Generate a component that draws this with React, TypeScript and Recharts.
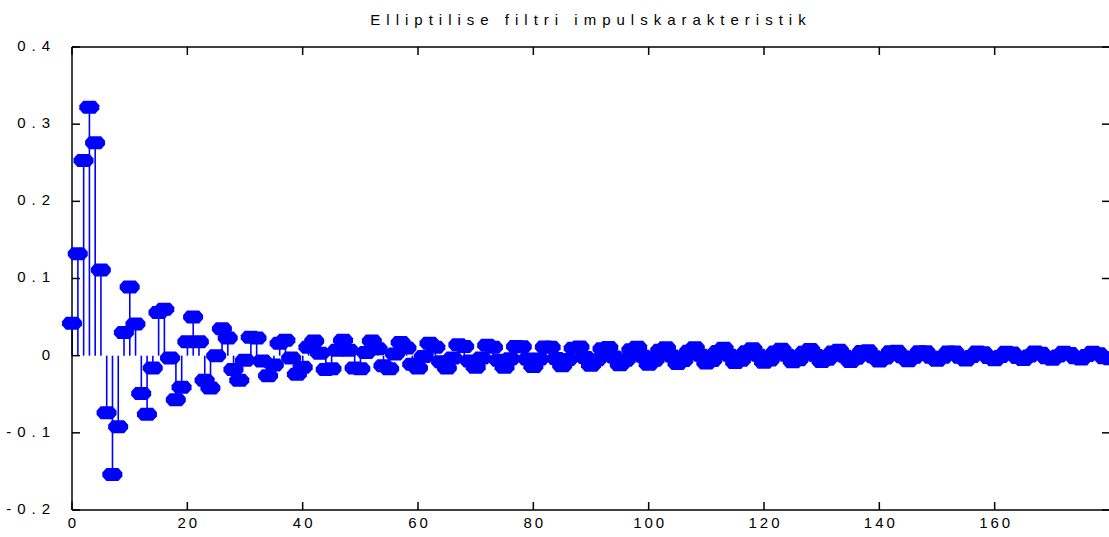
import { ComposedChart, Bar, Scatter, XAxis, YAxis, ReferenceLine } from 'recharts';

// impulse response, samples 0..29
const head = [
  0.042, 0.132, 0.253, 0.322, 0.276, 0.111, -0.074, -0.154, -0.092, 0.03,
  0.089, 0.041, -0.049, -0.076, -0.016, 0.056, 0.06, -0.003, -0.057, -0.041,
  0.018, 0.05, 0.018, -0.032, -0.042, 0.0, 0.035, 0.023, -0.018, -0.032,
];

// samples 30..180, the slowly dying ripple
const tail = [
  -0.006, 0.024, 0.023, -0.007, -0.026, -0.012, 0.016, 0.02, -0.003, -0.024,
  -0.015, 0.011, 0.019, 0.003, -0.018, -0.017, 0.007, 0.02, 0.007, -0.016,
  -0.017, 0.004, 0.019, 0.009, -0.013, -0.017, 0.002, 0.017, 0.01, -0.011,
  -0.016, -0.001, 0.016, 0.011, -0.008, -0.016, -0.003, 0.014, 0.012, -0.007,
  -0.015, -0.003, 0.0135, 0.011, -0.006, -0.015, -0.004, 0.012, 0.0115, -0.0044,
  -0.014, -0.0043, 0.0112, 0.011, -0.0037, -0.013, -0.0051, 0.0096, 0.0111, -0.0024,
  -0.0124, -0.0053, 0.0091, 0.0106, -0.0018, -0.0118, -0.006, 0.0077, 0.0108, -0.0007,
  -0.011, -0.006, 0.0071, 0.0103, -0.0003, -0.0102, -0.0064, 0.0058, 0.0101, 0.0007,
  -0.0094, -0.0064, 0.0054, 0.0095, 0.0006, -0.0088, -0.006, 0.005, 0.0089, 0.0006,
  -0.0084, -0.0057, 0.0048, 0.0084, 0.0005, -0.0079, -0.0054, 0.0044, 0.0079, 0.0003,
  -0.0076, -0.0046, 0.0049, 0.0071, -0.0007, -0.0074, -0.0034, 0.0053, 0.0063, -0.0013,
  -0.0069, -0.0029, 0.005, 0.0058, -0.0015, -0.0065, -0.0022, 0.0051, 0.005, -0.0019,
  -0.006, -0.0019, 0.0048, 0.0047, -0.002, -0.0056, -0.0012, 0.0048, 0.0039, -0.0023,
  -0.0052, -0.001, 0.0045, 0.0036, -0.0023, -0.0049, -0.0005, 0.0046, 0.0031, -0.0026,
  -0.0046, -0.0003, 0.0044, 0.0029, -0.0026, -0.0043, 0.0001, 0.0043, 0.0024, -0.0028,
  -0.0041,
];

const xTicks = [0, 20, 40, 60, 80, 100, 120, 140, 160];
const yTicks = [-0.2, -0.1, 0, 0.1, 0.2, 0.3, 0.4];
const X_MIN = 0;
const X_MAX = 180;
const Y_MIN = -0.2;
const Y_MAX = 0.4;
const title = 'Elliptilise filtri impulskarakteristik';

const samples = [...head, ...tail].map((v, n) => ({ n, v }));

const BLUE = '#0000ff';
const FONT = '"Liberation Sans", Arial, Helvetica, sans-serif';
const GAP = 4;
// inward tick length (~8px) expressed in data units of each axis
const X_TICK_LEN = 1.39;
const Y_TICK_LEN = 0.0104;
const FRAME = { stroke: '#000', strokeWidth: 1.5 };

const fmtY = (v: number) => (v === 0 ? '0' : v.toFixed(1));

function BottomLabel({ x, y, payload }: any) {
  const ay = y - GAP;
  return (
    <text x={x + 1.5} y={ay + 14} textAnchor="middle" dominantBaseline="middle"
      fontSize={15} letterSpacing={3} fill="#000" fontFamily={FONT}>
      {payload.value}
    </text>
  );
}

function LeftLabel({ x, y, payload }: any) {
  const ax = x + GAP;
  return (
    <text x={ax - 16} y={y} textAnchor="end" dominantBaseline="middle"
      fontSize={15} letterSpacing={6} fill="#000" fontFamily={FONT}>
      {fmtY(payload.value)}
    </text>
  );
}

// stem: thin line from zero to the value
function Stem({ x, y, width, height }: any) {
  const cx = x + width / 2;
  return <line x1={cx} y1={y} x2={cx} y2={y + height} stroke={BLUE} strokeWidth={1.6} />;
}

// filled marker, wide and flat like the stretched original
function Marker({ cx, cy }: any) {
  const pts = [
    [-10, -2], [-6, -6.5], [6, -6.5], [10, -2],
    [10, 2], [6, 6.5], [-6, 6.5], [-10, 2],
  ].map(([dx, dy]) => `${cx + dx},${cy + dy}`).join(' ');
  return <polygon points={pts} fill={BLUE} />;
}

export default function App() {
  return (
    <div style={{ position: 'absolute', left: 0, top: 0, width: 1109, height: 537, overflow: 'hidden', background: '#fff' }}>
      <div style={{
        position: 'absolute', top: 11, left: 0, width: 1182, textAlign: 'center',
        fontFamily: FONT, fontSize: 15, lineHeight: '17px', letterSpacing: 6, color: '#000',
      }}>
        {title}
      </div>
      <ComposedChart width={1125} height={537} data={samples}
        margin={{ top: 47, right: 15, bottom: 0, left: 0 }}>
        <XAxis dataKey="n" type="number" domain={[X_MIN, X_MAX]} ticks={xTicks}
          height={27} tickSize={0} tickMargin={GAP}
          axisLine={FRAME} tick={<BottomLabel />} interval={0} />
        <YAxis type="number" domain={[Y_MIN, Y_MAX]} ticks={yTicks}
          width={72} tickSize={0} tickMargin={GAP}
          axisLine={FRAME} tick={<LeftLabel />} interval={0} />

        {/* rest of the box */}
        <ReferenceLine y={Y_MAX} {...FRAME} ifOverflow="visible" />
        <ReferenceLine x={X_MAX} {...FRAME} ifOverflow="visible" />

        {/* inward ticks on all four sides */}
        {xTicks.map((t) => (
          <ReferenceLine key={`top${t}`} {...FRAME} ifOverflow="visible"
            segment={[{ x: t, y: Y_MAX }, { x: t, y: Y_MAX - Y_TICK_LEN }]} />
        ))}
        {xTicks.map((t) => (
          <ReferenceLine key={`bot${t}`} {...FRAME} ifOverflow="visible"
            segment={[{ x: t, y: Y_MIN }, { x: t, y: Y_MIN + Y_TICK_LEN }]} />
        ))}
        {yTicks.map((t) => (
          <ReferenceLine key={`lft${t}`} {...FRAME} ifOverflow="visible"
            segment={[{ x: X_MIN, y: t }, { x: X_MIN + X_TICK_LEN, y: t }]} />
        ))}
        {yTicks.map((t) => (
          <ReferenceLine key={`rgt${t}`} {...FRAME} ifOverflow="visible"
            segment={[{ x: X_MAX, y: t }, { x: X_MAX - X_TICK_LEN, y: t }]} />
        ))}

        <Bar dataKey="v" barSize={2} shape={<Stem />} isAnimationActive={false} />
        <Scatter dataKey="v" shape={<Marker />} isAnimationActive={false} />
      </ComposedChart>
    </div>
  );
}
